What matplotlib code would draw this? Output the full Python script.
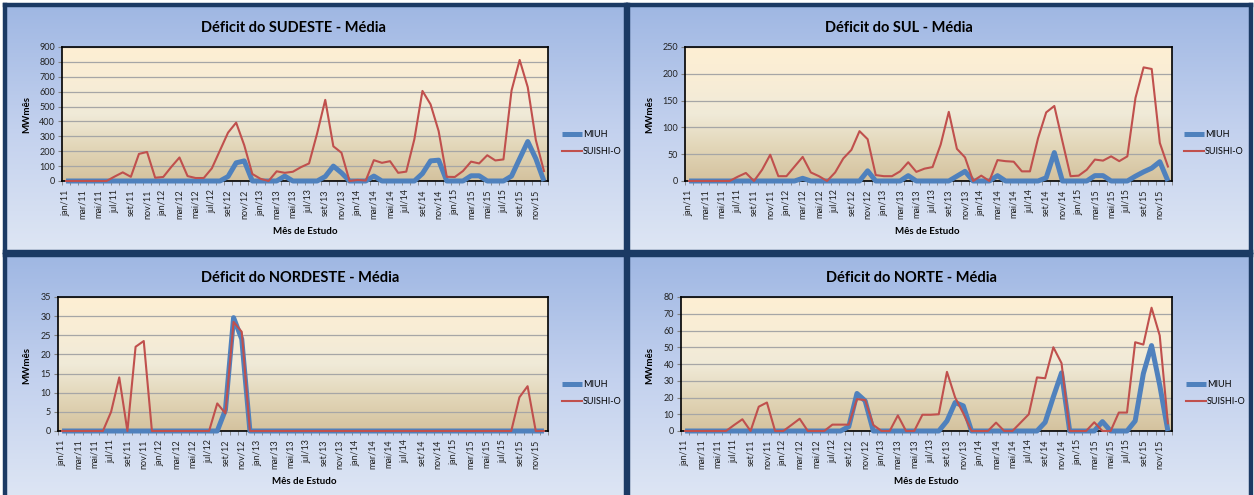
import numpy as np
import matplotlib
matplotlib.use("Agg")
import matplotlib.pyplot as plt
from matplotlib.colors import LinearSegmentedColormap

plt.rcParams['font.family'] = ['Lato', 'DejaVu Sans']

# months jan/11 .. dez/15
meses = ['jan', 'fev', 'mar', 'abr', 'mai', 'jun', 'jul', 'ago', 'set', 'out', 'nov', 'dez']
anos = ['11', '12', '13', '14', '15']
rotulos = [m + '/' + a for a in anos for m in meses]

sudeste_miuh = [0, 0, 0, 0, 0, 0, 0, 0, 0, 0, 0, 0, 0, 0, 0, 0, 0, 0, 0, 0,
                30, 122, 135, 0, 0, 0, 0, 33, 0, 0, 0, 0, 30, 100, 55, 0, 0, 0, 33, 0,
                0, 0, 0, 0, 50, 135, 140, 0, 0, 0, 35, 35, 0, 0, 0, 33, 150, 265, 150, 0]
sudeste_suishi = [0, 0, 0, 0, 0, 0, 30, 58, 28, 182, 195, 22, 27, 95, 158, 33, 20, 20, 85, 205,
                  325, 392, 240, 47, 15, 0, 65, 55, 62, 93, 118, 320, 545, 233, 190, 0, 7, 3, 140, 122,
                  133, 55, 63, 280, 605, 515, 335, 28, 27, 67, 130, 118, 173, 138, 145, 608, 813, 630, 275, 67]

sul_miuh = [0, 0, 0, 0, 0, 0, 0, 0, 0, 0, 0, 0, 0, 0, 5, 0, 0, 0, 0, 0,
            0, 0, 19, 0, 0, 0, 0, 10, 0, 0, 0, 0, 0, 9, 18, 0, 0, 0, 10, 0,
            0, 0, 0, 0, 6, 53, 0, 0, 0, 0, 10, 10, 0, 0, 0, 9, 17, 24, 36, 0]
sul_suishi = [0, 0, 0, 0, 0, 0, 8, 15, 0, 21, 49, 9, 9, 27, 45, 16, 9, 0, 16, 42,
              58, 93, 78, 11, 9, 9, 18, 35, 17, 23, 26, 68, 129, 60, 44, 0, 10, 0, 39, 37,
              36, 18, 18, 80, 128, 140, 74, 9, 10, 21, 40, 38, 46, 37, 46, 155, 212, 209, 71, 27]

nordeste_miuh = [0] * 20 + [5.5, 29.6, 24, 0] + [0] * 36
nordeste_suishi = [0, 0, 0, 0, 0, 0, 5, 14, 0, 22, 23.5, 0, 0, 0, 0, 0, 0, 0, 0, 7.2,
                   4.6, 28.5, 25.9, 0, 0, 0, 0, 0, 0, 0, 0, 0, 0, 0, 0, 0, 0, 0, 0, 0,
                   0, 0, 0, 0, 0, 0, 0, 0, 0, 0, 0, 0, 0, 0, 0, 0, 8.8, 11.7, 0, 0]

norte_miuh = [0, 0, 0, 0, 0, 0, 0, 0, 0, 0, 0, 0, 0, 0, 0, 0, 0, 0, 0, 0,
              2.6, 22.4, 18, 0, 0, 0, 0, 0, 0, 0, 0, 0, 6, 17, 15, 0, 0, 0, 0, 0,
              0, 0, 0, 0, 5.2, 20.4, 34.7, 0, 0, 0, 0, 5.6, 0, 0, 0, 6, 34.3, 51, 27.4, 0]
norte_suishi = [0, 0, 0, 0, 0, 0, 3.6, 7, 0, 14.5, 17, 0, 0, 3.6, 7.3, 0, 0, 0, 3.8, 3.8,
                3.8, 19, 18.5, 3.6, 0, 0, 9.3, 0, 0, 9.7, 9.7, 10, 35.3, 20, 10.5, 0, 0, 0, 5, 0,
                0, 5, 10, 32, 31.5, 50, 40.5, 0, 0, 0, 5.2, 0, 0, 11, 11, 53, 51.6, 73.6, 57, 4.6]

W, H = 1254, 495
fig = plt.figure(figsize=(W / 100, H / 100), dpi=100)
fig.patch.set_facecolor('white')


def rect(x0, y0, x1, y1):
    return [x0 / W, 1 - y1 / H, (x1 - x0) / W, (y1 - y0) / H]


def px(x, y):
    return x / W, 1 - y / H


painel_cmap = LinearSegmentedColormap.from_list('painel', ['#9FB7E3', '#C3D1EE', '#DEE6F4'])
area_cmap = LinearSegmentedColormap.from_list('area', ['#FEEFD3', '#F8EDD6', '#F0EAD8', '#E2D6B8', '#D4C29E'])
grad = np.linspace(0, 1, 256).reshape(-1, 1)

paineis = [
    dict(box=(5, 5, 626, 252), area=(62, 47, 548, 181), titulo='Déficit do SUDESTE - Média',
         tpos=(293, 28), ypos=(27, 115), xpos=(305, 232), leg=(562, 143),
         ymax=900, ystep=100, miuh=sudeste_miuh, suishi=sudeste_suishi),
    dict(box=(628, 5, 1251, 252), area=(685, 47, 1172, 181), titulo='Déficit do SUL - Média',
         tpos=(899, 28), ypos=(650, 115), xpos=(927, 232), leg=(1184, 143),
         ymax=250, ystep=50, miuh=sul_miuh, suishi=sul_suishi),
    dict(box=(5, 255, 626, 500), area=(58, 297, 548, 431), titulo='Déficit do NORDESTE - Média',
         tpos=(300, 278), ypos=(27, 365), xpos=(304, 482), leg=(562, 393),
         ymax=35, ystep=5, miuh=nordeste_miuh, suishi=nordeste_suishi),
    dict(box=(628, 255, 1251, 500), area=(681, 297, 1172, 431), titulo='Déficit do NORTE - Média',
         tpos=(911, 278), ypos=(650, 365), xpos=(926, 482), leg=(1186, 393),
         ymax=80, ystep=10, miuh=norte_miuh, suishi=norte_suishi),
]

x = np.arange(len(rotulos))

for p in paineis:
    # chart background with border
    bg = fig.add_axes(rect(*p['box']), zorder=0)
    bg.imshow(grad, cmap=painel_cmap, aspect='auto', extent=[0, 1, 0, 1], origin='upper')
    bg.set_xlim(0, 1)
    bg.set_ylim(0, 1)
    bg.set_xticks([])
    bg.set_yticks([])
    for s in bg.spines.values():
        s.set_color('#1B3A64')
        s.set_linewidth(3.2)

    ax = fig.add_axes(rect(*p['area']), zorder=1)
    ax.imshow(grad, cmap=area_cmap, aspect='auto', extent=[0, 1, 0, 1],
              transform=ax.transAxes, origin='upper', zorder=0)
    ax.plot(x, p['miuh'], color='#4F81BD', lw=3.6, solid_joinstyle='round',
            solid_capstyle='butt', clip_on=False, zorder=3, label='MIUH')
    ax.plot(x, p['suishi'], color='#C0504D', lw=1.5, solid_joinstyle='round',
            clip_on=False, zorder=4, label='SUISHI-O')
    ax.set_xlim(-0.5, len(x) - 0.5)
    ax.set_ylim(0, p['ymax'])
    ax.set_yticks(np.arange(0, p['ymax'] + 1, p['ystep']))
    ax.yaxis.grid(True, color='#A6A6A6', lw=0.9)
    ax.set_axisbelow(True)
    ax.set_xticks(x[::2])
    ax.set_xticklabels(rotulos[::2], rotation=90, fontsize=6.5, color='#222222')
    ax.set_xticks(np.arange(-0.5, len(x), 1), minor=True)
    ax.tick_params(axis='x', which='major', length=0, pad=6)
    ax.tick_params(axis='x', which='minor', length=3, color='#808080')
    ax.tick_params(axis='y', labelsize=6.5, length=3, color='#808080', pad=2,
                   labelcolor='#222222')
    for s in ax.spines.values():
        s.set_color('black')
        s.set_linewidth(1.2)

    fig.text(*px(*p['tpos']), p['titulo'], ha='center', va='center',
             fontsize=10.5, fontweight='bold', color='black')
    fig.text(*px(*p['ypos']), 'MWmês', ha='center', va='center', rotation=90,
             fontsize=7, fontweight='bold')
    fig.text(*px(*p['xpos']), 'Mês de Estudo', ha='center', va='center',
             fontsize=7, fontweight='bold')
    ax.legend(loc='center left', bbox_to_anchor=px(*p['leg']), bbox_transform=fig.transFigure,
              frameon=False, fontsize=6.5, handlelength=2.2, handletextpad=0.1,
              labelspacing=0.9, borderpad=0, borderaxespad=0)

fig.savefig('out.png', dpi=100)
